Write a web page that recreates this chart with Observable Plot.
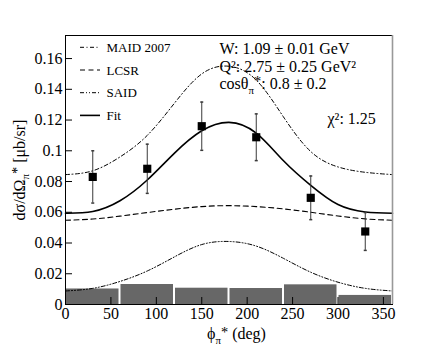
<!DOCTYPE html>
<html>
<head>
<meta charset="utf-8">
<script src="https://cdn.jsdelivr.net/npm/d3@7"></script>
<script src="https://cdn.jsdelivr.net/npm/@observablehq/plot@0.6"></script>
<style>
  body { margin: 0; background: white; }
  svg { display: block; }
  svg text, svg tspan { font-family: "Liberation Serif", "DejaVu Serif", serif !important; }
</style>
</head>
<body>
<div id="chart"></div>
<script>
// ---- data ----
const curvePhi = [0, 30, 60, 90, 120, 150, 180, 210, 240, 270, 300, 330, 360];
const maid2007 = [0.0845, 0.0870, 0.0960, 0.1100, 0.1310, 0.1500, 0.1550, 0.1460, 0.1220, 0.0995, 0.0895, 0.0860, 0.0845];
const lcsr     = [0.0548, 0.0556, 0.0575, 0.0598, 0.0620, 0.0637, 0.0643, 0.0637, 0.0622, 0.0600, 0.0576, 0.0557, 0.0548];
const said     = [0.0088, 0.0105, 0.0150, 0.0218, 0.0310, 0.0390, 0.0410, 0.0380, 0.0300, 0.0210, 0.0145, 0.0105, 0.0088];
const fitCurve = [0.0594, 0.0605, 0.0675, 0.0810, 0.0985, 0.1130, 0.1185, 0.1115, 0.0935, 0.0775, 0.0650, 0.0602, 0.0594];

const pointPhi = [30, 90, 150, 210, 270, 330];
const pointVal = [0.0830, 0.0883, 0.1160, 0.1088, 0.0694, 0.0475];
const pointErr = [0.0170, 0.0160, 0.0157, 0.0152, 0.0142, 0.0123];

const sysStart = [0, 60, 120, 180, 240, 300];
const sysEnd   = [60, 120, 180, 240, 300, 360];
const sysVal   = [0.0101, 0.0130, 0.0106, 0.0104, 0.0128, 0.0059];

const xTicks = [0, 50, 100, 150, 200, 250, 300, 350];
const yTicks = [0, 0.02, 0.04, 0.06, 0.08, 0.10, 0.12, 0.14, 0.16];
const xDomain = [0, 360];
const yDomain = [0, 0.175];

const legendLabels = ["MAID 2007", "LCSR", "SAID", "Fit"];
const legendDash   = ["4,2.5,1,2.5", "5,3.5", "4,2,1,2,1,2", null];
const legendWidth  = [1, 1, 1, 1.6];

const infoLines = ["W: 1.09 ± 0.01 GeV", "Q²: 2.75 ± 0.25 GeV²", "cosθπ*: 0.8 ± 0.2"];
const chiText = "χ²: 1.25";
const xLabel = "ϕπ* (deg)";
const yLabel = "dσ/dΩπ* [μb/sr]";

// ---- build tables ----
const curves = curvePhi.map((p, i) => ({phi: p, maid: maid2007[i], lcsr: lcsr[i], said: said[i], fit: fitCurve[i]}));
const points = pointPhi.map((p, i) => ({phi: p, v: pointVal[i], e: pointErr[i]}));
const sys = sysStart.map((s, i) => ({x1: s, x2: sysEnd[i], v: sysVal[i]}));

const W = 436, H = 358, mL = 65, mR = 44, mT = 35, mB = 54;
const legendRow0 = 12.3, legendStep = 22.7;
const capSymbol = {draw(ctx, size) { const w = Math.sqrt(size) / 2; ctx.moveTo(-w, 0); ctx.lineTo(w, 0); }};
const yFmt = d => d === 0 ? "0" : String(+d.toFixed(2));

const legendTextMarks = legendLabels.map((lab, i) =>
  Plot.text([lab], {frameAnchor: "top-left", text: d => d, dx: 41, dy: legendRow0 + i * legendStep, textAnchor: "start", lineAnchor: "middle", fontSize: 13})
);

const chart = Plot.plot({
  width: W, height: H,
  marginLeft: mL, marginRight: mR, marginTop: mT, marginBottom: mB,
  x: {domain: xDomain},
  y: {domain: yDomain},
  style: {fontFamily: "Liberation Serif", fontSize: "16px", background: "white", color: "black"},
  marks: [
    Plot.rectY(sys, {x1: "x1", x2: "x2", y: "v", fill: "#676767", insetLeft: 1, insetRight: 1}),
    Plot.line(curves, {x: "phi", y: "maid", stroke: "black", strokeWidth: 1, strokeDasharray: legendDash[0], curve: "natural"}),
    Plot.line(curves, {x: "phi", y: "lcsr", stroke: "black", strokeWidth: 1.1, strokeDasharray: legendDash[1], curve: "natural"}),
    Plot.line(curves, {x: "phi", y: "said", stroke: "black", strokeWidth: 1, strokeDasharray: legendDash[2], curve: "natural"}),
    Plot.line(curves, {x: "phi", y: "fit", stroke: "black", strokeWidth: 1.6, curve: "natural"}),
    Plot.ruleX(points, {x: "phi", y1: d => d.v - d.e, y2: d => d.v + d.e, stroke: "#3a3a3a", strokeWidth: 1}),
    Plot.dot(points, {x: "phi", y: d => d.v + d.e, symbol: capSymbol, r: 1.7, stroke: "#3a3a3a", fill: "none"}),
    Plot.dot(points, {x: "phi", y: d => d.v - d.e, symbol: capSymbol, r: 1.7, stroke: "#3a3a3a", fill: "none"}),
    Plot.dot(points, {x: "phi", y: "v", symbol: "square", r: 4.6, fill: "black", stroke: "none"}),
    Plot.frame({stroke: "black", strokeWidth: 1}),
    Plot.ruleX([xDomain[1]], {stroke: "#999", strokeWidth: 1.6}),
    Plot.axisX({ticks: xTicks, tickSize: 0, tickPadding: 3, label: null}),
    Plot.axisX({ticks: xTicks, tickSize: 7, dy: -7, tickFormat: () => "", label: null}),
    Plot.axisY({ticks: yTicks, tickSize: 0, tickPadding: 3, tickFormat: yFmt, label: null}),
    Plot.axisY({ticks: yTicks, tickSize: 7, dx: 7, tickFormat: () => "", label: null}),
    ...legendTextMarks,
    Plot.text([infoLines[0]], {frameAnchor: "top-left", text: d => d, dx: 154, dy: 12.9, textAnchor: "start", lineAnchor: "middle", fontSize: 16}),
    Plot.text([infoLines[1]], {frameAnchor: "top-left", text: d => d, dx: 154, dy: 31.4, textAnchor: "start", lineAnchor: "middle", fontSize: 16}),
    Plot.text([infoLines[2]], {frameAnchor: "top-left", text: d => d, dx: 154, dy: 48.2, textAnchor: "start", lineAnchor: "middle", fontSize: 16}),
    Plot.text([chiText], {frameAnchor: "top-left", text: d => d, dx: 262, dy: 83.4, textAnchor: "start", lineAnchor: "middle", fontSize: 16}),
    Plot.text([xLabel], {frameAnchor: "bottom", text: d => d, dx: 7.5, dy: 23.6, textAnchor: "middle", lineAnchor: "top", fontSize: 16}),
    Plot.text([yLabel], {frameAnchor: "left", text: d => d, dx: -46, rotate: -90, textAnchor: "middle", lineAnchor: "middle", fontSize: 16})
  ]
});

document.getElementById("chart").append(chart);

// legend swatches
const svg = d3.select(chart);
const g = svg.append("g");
legendLabels.forEach((lab, i) => {
  const y = mT + legendRow0 + i * legendStep;
  const ln = g.append("line").attr("x1", mL + 15).attr("x2", mL + 35).attr("y1", y).attr("y2", y)
    .attr("stroke", "black").attr("stroke-width", legendWidth[i]);
  if (legendDash[i]) ln.attr("stroke-dasharray", legendDash[i]);
});

// subscript pi + superscript star
(function subSup(root) {
  const ns = "http://www.w3.org/2000/svg";
  const walker = document.createTreeWalker(root, NodeFilter.SHOW_TEXT);
  const nodes = [];
  while (walker.nextNode()) if (walker.currentNode.nodeValue.includes("π*")) nodes.push(walker.currentNode);
  for (const n of nodes) {
    const parent = n.parentNode;
    const fs = parseFloat(getComputedStyle(parent).fontSize) || 16;
    const [before, after] = n.nodeValue.split("π*");
    const frag = document.createDocumentFragment();
    frag.append(before);
    const t1 = document.createElementNS(ns, "tspan");
    t1.setAttribute("font-size", fs * 0.68); t1.setAttribute("dy", fs * 0.3); t1.textContent = "π";
    const t2 = document.createElementNS(ns, "tspan");
    t2.setAttribute("font-size", fs * 0.9); t2.setAttribute("dy", -fs * 0.45); t2.textContent = "*";
    const t3 = document.createElementNS(ns, "tspan");
    t3.setAttribute("dy", fs * 0.15); t3.textContent = after;
    frag.append(t1, t2, t3);
    parent.replaceChild(frag, n);
  }
})(chart);
</script>
</body>
</html>
